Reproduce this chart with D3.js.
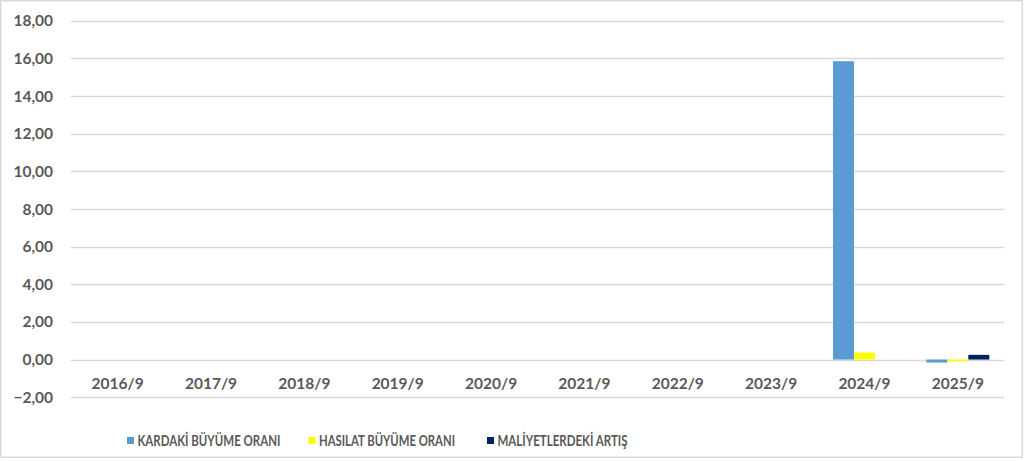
<!DOCTYPE html>
<html>
<head>
<meta charset="utf-8">
<script src="https://cdn.jsdelivr.net/npm/d3@7"></script>
<style>
  html, body { margin: 0; padding: 0; background: #ffffff; }
  svg { display: block; }
  text { font-family: Lato, "Open Sans", sans-serif; }
</style>
</head>
<body>
<svg id="chart" width="1024" height="461"></svg>
<script>
const categories = ["2016/9","2017/9","2018/9","2019/9","2020/9","2021/9","2022/9","2023/9","2024/9","2025/9"];
const seriesNames = ["KARDAKİ BÜYÜME ORANI","HASILAT BÜYÜME ORANI","MALİYETLERDEKİ ARTIŞ"];
const seriesColors = ["#5B9BD5","#FFFF00","#002060"];
const kardakiValues = [0,0,0,0,0,0,0,0,15.85,-0.16];
const hasilatValues = [0,0,0,0,0,0,0,0,0.37,-0.10];
const maliyetValues = [0,0,0,0,0,0,0,0,0,0.25];
const yTicks = [-2,0,2,4,6,8,10,12,14,16,18];

const seriesValues = [kardakiValues, hasilatValues, maliyetValues];

const svg = d3.select("#chart");

// chart frame
svg.append("rect")
  .attr("x", 0.75).attr("y", 0.75)
  .attr("width", 1021.5).attr("height", 456.5)
  .attr("fill", "#fff").attr("stroke", "#d9d9d9").attr("stroke-width", 1.5);

const plot = { left: 71, right: 1004.5, top: 20.7, bottom: 397.2 };

const y = d3.scaleLinear().domain([-2, 18]).range([plot.bottom, plot.top]);
const x0 = d3.scaleBand().domain(categories).range([plot.left, plot.right]).padding(0);
const groupW = x0.bandwidth() * 0.675;
const x1 = d3.scaleBand().domain(d3.range(seriesNames.length)).range([0, groupW]).padding(0);

// gridlines
svg.append("g")
  .selectAll("line")
  .data(yTicks)
  .join("line")
  .attr("x1", plot.left).attr("x2", plot.right)
  .attr("y1", d => Math.round(y(d)) + 0.5).attr("y2", d => Math.round(y(d)) + 0.5)
  .attr("stroke", "#d9d9d9").attr("stroke-width", 1.3);

// y axis labels
const fmt = d => d3.format(".2f")(d).replace(".", ",");
svg.append("g")
  .selectAll("text")
  .data(yTicks)
  .join("text")
  .attr("x", 53)
  .attr("y", d => y(d))
  .attr("dy", "0.36em")
  .attr("text-anchor", "end")
  .attr("fill", "#595959")
  .attr("font-size", "15.5px")
  .attr("font-weight", "bold")
  .text(fmt);

// bars
const data = [];
categories.forEach((c, i) => {
  seriesValues.forEach((vals, s) => {
    data.push({ cat: c, s, v: vals[i] });
  });
});
svg.append("g")
  .selectAll("rect")
  .data(data.filter(d => d.v !== 0))
  .join("rect")
  .attr("x", d => x0(d.cat) + (x0.bandwidth() - groupW) / 2 + x1(d.s))
  .attr("width", x1.bandwidth())
  .attr("y", d => y(Math.max(0, d.v)))
  .attr("height", d => Math.abs(y(d.v) - y(0)))
  .attr("fill", d => seriesColors[d.s]);

// x axis labels
svg.append("g")
  .selectAll("text")
  .data(categories)
  .join("text")
  .attr("x", d => x0(d) + x0.bandwidth() / 2)
  .attr("y", 383)
  .attr("dy", "0.36em")
  .attr("text-anchor", "middle")
  .attr("fill", "#595959")
  .attr("font-size", "15.5px")
  .attr("font-weight", "bold")
  .text(d => d);

// legend
const legendX = [127, 308.5, 487];
const legendW = [143, 136, 130];
const lg = svg.append("g");
seriesNames.forEach((name, i) => {
  lg.append("rect")
    .attr("x", legendX[i]).attr("y", 437)
    .attr("width", 7).attr("height", 7)
    .attr("fill", seriesColors[i]);
  lg.append("text")
    .attr("x", legendX[i] + 10.5)
    .attr("y", 441)
    .attr("dy", "0.36em")
    .attr("fill", "#595959")
    .attr("font-size", "15px")
    .attr("font-weight", "bold")
    .attr("textLength", legendW[i])
    .attr("lengthAdjust", "spacingAndGlyphs")
    .text(name);
});
</script>
</body>
</html>
